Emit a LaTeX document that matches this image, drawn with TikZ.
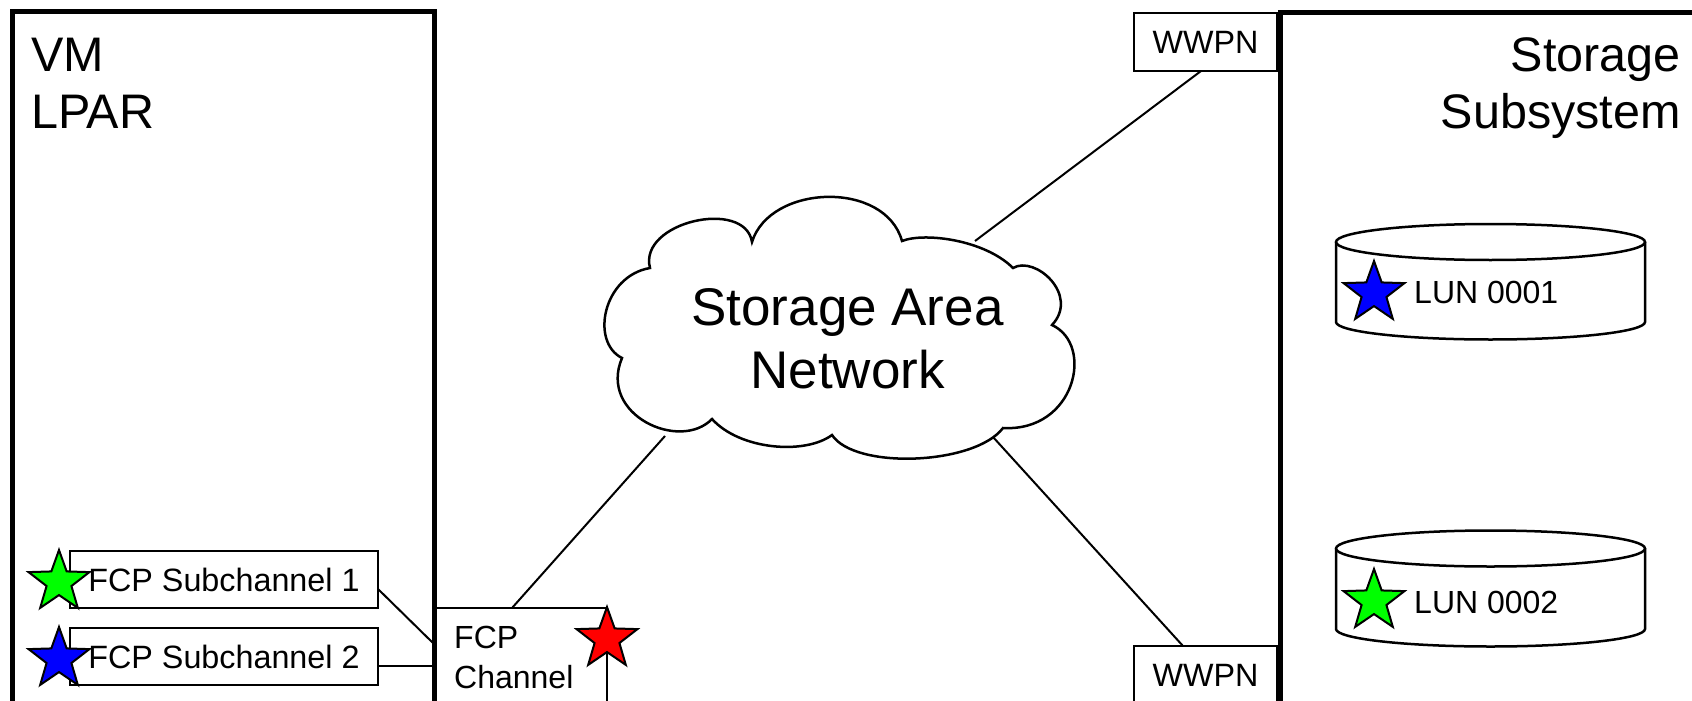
\documentclass[tikz,border=0pt]{standalone}
\usepackage{fontspec}
\setmainfont{Liberation Sans}
\usetikzlibrary{shapes.geometric}
\begin{document}
\begin{tikzpicture}[x=1pt,y=1pt,
  bigtext/.style={font=\fontsize{48.5}{56}\selectfont, inner sep=0},
  santext/.style={font=\fontsize{53}{62}\selectfont, inner sep=0},
  smalltext/.style={font=\fontsize{32}{38}\selectfont, inner sep=0},
  frame/.style={draw, line width=5pt, outer sep=0, inner sep=0},
  box/.style={draw, line width=2.7pt, outer sep=0, inner sep=0, font=\fontsize{32.3}{38}\selectfont},
  conn/.style={line width=2pt},
  disk/.style={line width=2.5pt},
  starnode/.style={star, star points=5, star point ratio=2.45, minimum size=64pt, inner sep=0, outer sep=0, draw, line width=2pt}
]
\useasboundingbox (0,0) rectangle (1692,-701);
\clip (0,0) rectangle (1692,-701);

% frames
\node[frame, anchor=north west, minimum width=422, minimum height=800] (vmbox) at (12,-12) {};
\node[frame, anchor=north west, minimum width=600, minimum height=800] (stbox) at (1280,-12.5) {};
\node[bigtext, anchor=base west] (vm1) at (31,-72) {VM};
\node[bigtext, anchor=base west] (vm2) at (31,-128) {LPAR};
\node[bigtext, anchor=base east] (st1) at (1681,-72) {Storage};
\node[bigtext, anchor=base east] (st2) at (1681,-128) {Subsystem};

% FCP channel
\node[box, anchor=north west, minimum width=173, minimum height=150] (fcp) at (434,-608) {};
\node[smalltext, anchor=base west] (fcp1) at (454,-648) {FCP};
\node[smalltext, anchor=base west] (fcp2) at (454,-688) {Channel};

% subchannels
\node[box, minimum width=308, minimum height=57] (sub1) at (224,-579.5) {FCP Subchannel 1};
\node[box, minimum width=308, minimum height=57] (sub2) at (224,-656.5) {FCP Subchannel 2};

% WWPN boxes
\node[box, minimum width=143, minimum height=58] (wwpn1) at (1205.5,-42) {WWPN};
\node[box, minimum width=143, minimum height=58] (wwpn2) at (1205.5,-675) {WWPN};

% connector end points
\coordinate (s1out) at (378,-589);
\coordinate (fcpin1) at (433,-643);
\coordinate (s2out) at (378,-666);
\coordinate (fcpin2) at (434,-666);
\coordinate (fcptop) at (512,-608);
\coordinate (sanBL) at (665,-436);
\coordinate (sanTR) at (975,-241);
\coordinate (w1in) at (1201,-71);
\coordinate (sanBR) at (993,-437);
\coordinate (w2in) at (1183,-646);

\draw[conn] (s1out) -- (fcpin1);
\draw[conn] (s2out) -- (fcpin2);
\draw[conn] (fcptop) -- (sanBL);
\draw[conn] (sanTR) -- (w1in);
\draw[conn] (sanBR) -- (w2in);

% cloud
\draw[line width=2.5pt, fill=white] (650,-268)
 .. controls (638,-222) and (745,-198) .. (752,-242)
 .. controls (770,-184) and (885,-180) .. (902,-241)
 .. controls (925,-232) and (985,-240) .. (1013,-268)
 .. controls (1035,-255) and (1080,-295) .. (1052,-325)
 .. controls (1095,-345) and (1075,-432) .. (1003,-428)
 .. controls (975,-465) and (855,-470) .. (832,-435)
 .. controls (805,-455) and (740,-450) .. (712,-419)
 .. controls (680,-452) and (598,-415) .. (622,-358)
 .. controls (590,-342) and (603,-276) .. (650,-268) -- cycle;
\node[santext, anchor=base] (san1) at (847.5,-325) {Storage Area};
\node[santext, anchor=base] (san2) at (847.5,-388) {Network};

% disks
\draw[disk] (1336,-242) -- (1336,-322) arc[start angle=180, end angle=360, x radius=154.5, y radius=17.5] -- (1645,-242);
\draw[disk] (1490.5,-242) ellipse[x radius=154.5, y radius=18];
\draw[disk] (1336,-548.5) -- (1336,-629) arc[start angle=180, end angle=360, x radius=154.5, y radius=17.5] -- (1645,-548.5);
\draw[disk] (1490.5,-548.5) ellipse[x radius=154.5, y radius=18];
\node[smalltext, anchor=base west] (lun1) at (1414,-303) {LUN 0001};
\node[smalltext, anchor=base west] (lun2) at (1414,-613) {LUN 0002};

% stars
\node[starnode, fill=green] (gs1) at (59,-582) {};
\node[starnode, fill=blue] (bs1) at (59,-659) {};
\node[starnode, fill=red] (rs) at (607,-639) {};
\node[starnode, fill=blue] (bs2) at (1374,-293) {};
\node[starnode, fill=green] (gs2) at (1374,-601) {};
\end{tikzpicture}
\end{document}
